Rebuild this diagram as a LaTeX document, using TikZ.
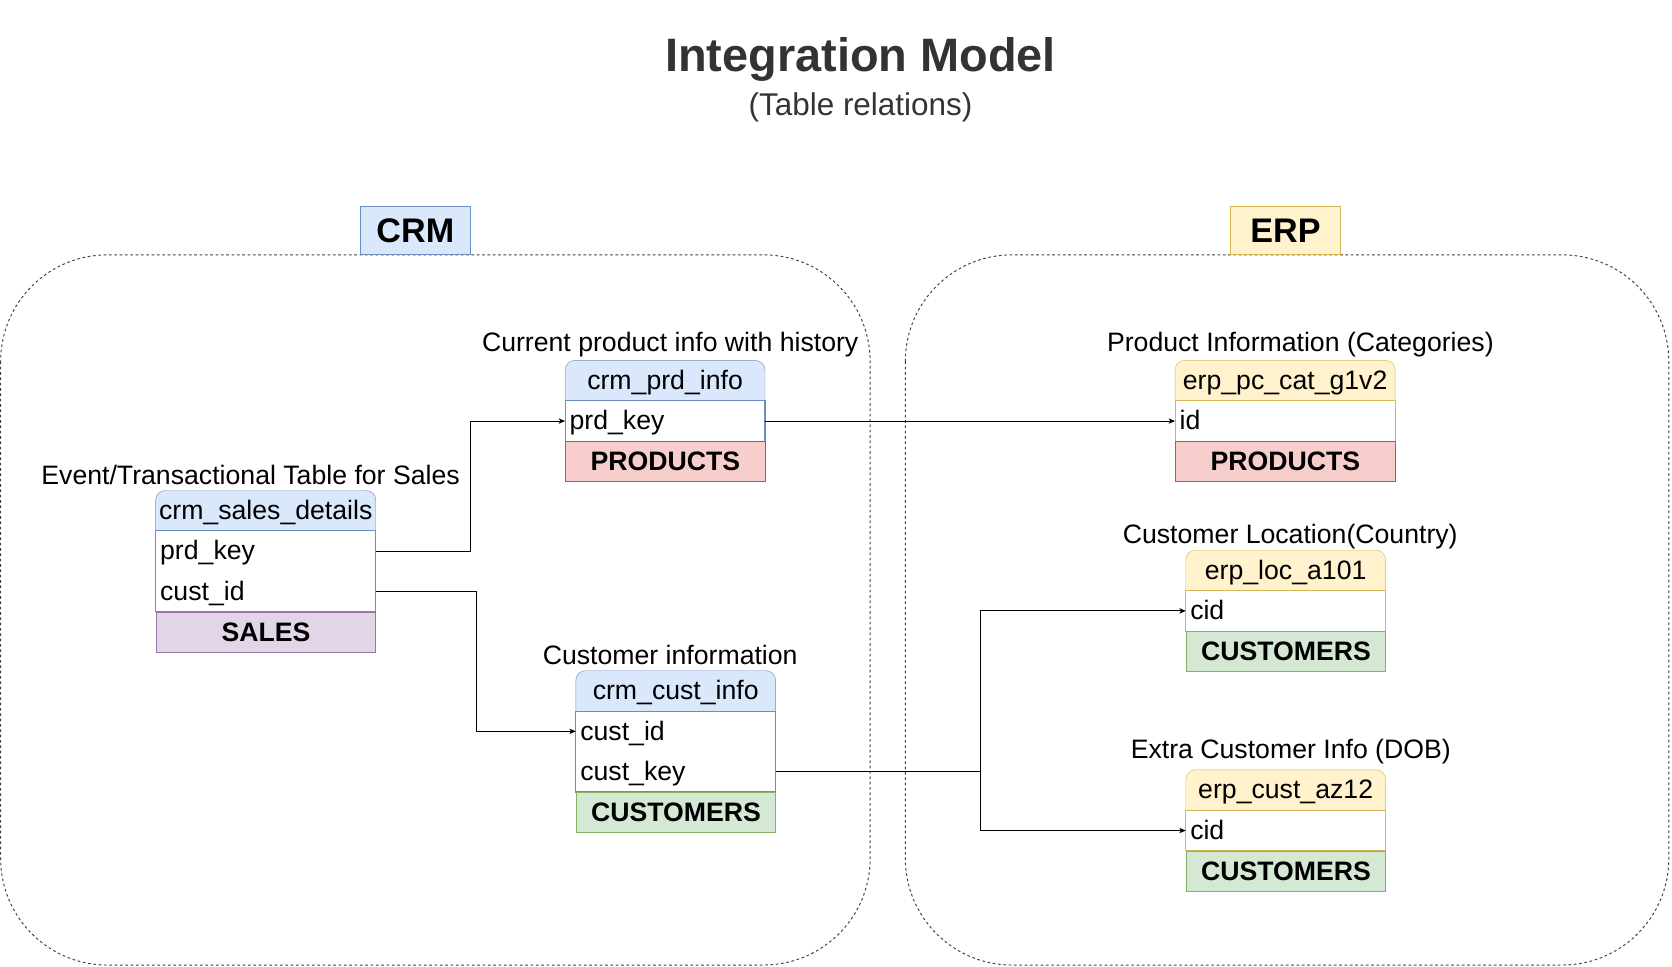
\documentclass[tikz,border=0pt]{standalone}
\usepackage{fontspec}
\setmainfont{Liberation Sans}
\usetikzlibrary{arrows.meta,backgrounds}

\definecolor{crmfill}{HTML}{DAE8FC}
\definecolor{crmline}{HTML}{6C8EBF}
\definecolor{erpfill}{HTML}{FFF2CC}
\definecolor{erpline}{HTML}{D6B656}
\definecolor{prdfill}{HTML}{F8CECC}
\definecolor{prdline}{HTML}{B85450}
\definecolor{custfill}{HTML}{D5E8D4}
\definecolor{custline}{HTML}{82B366}
\definecolor{salesfill}{HTML}{E1D5E7}
\definecolor{salesline}{HTML}{9673A6}
\definecolor{titlegray}{HTML}{333333}

\begin{document}
\begin{tikzpicture}
[x=1pt, y=-1pt,
 lbl/.style={inner sep=0pt, font=\fontsize{25}{30}\selectfont},
 hdr/.style={anchor=north west, minimum height=37.5pt, inner sep=0pt, text height=19.5pt, text depth=3pt, font=\fontsize{25}{30}\selectfont},
 fld/.style={anchor=north west, minimum height=37.5pt, inner xsep=4pt, inner ysep=0pt, text height=19.5pt, text depth=3pt, align=left, font=\fontsize{25}{30}\selectfont},
 grp/.style={anchor=north west, minimum height=37.5pt, inner sep=0pt, line width=1pt, font=\fontsize{25}{30}\selectfont\bfseries},
 conn/.style={-{Stealth[length=6pt,width=5pt,inset=1.5pt]}, line width=0.9pt},
 zone/.style={draw=black!75, dash pattern=on 2.5pt off 2.5pt, line width=0.9pt, rounded corners=100pt},
 tag/.style={minimum width=103pt, minimum height=45pt, inner sep=0pt, line width=1pt, font=\fontsize{32}{38}\selectfont\bfseries},
]
\useasboundingbox (0,0) rectangle (1568,906);

%title
\node[font=\fontsize{44}{50}\selectfont\bfseries, text=titlegray] (title) at (807,56) {Integration Model};
\node[font=\fontsize{29.5}{34}\selectfont, text=titlegray] (subtitle) at (807,101) {(Table relations)};

%CRM
\draw[zone] (0.6,239) rectangle (816,905);
\node[tag, fill=crmfill, draw=crmline] (crm) at (389.5,216.5) {CRM};

%ERP
\draw[zone] (849,239) rectangle (1565,905);
\node[tag, fill=erpfill, draw=erpline] (erp) at (1205.5,216.5) {ERP};

%crm_sales_details
\node[lbl] at (235,445) {Event/Transactional Table for Sales};
\node[hdr, minimum width=206pt] (sd) at (146,460) {crm\_sales\_details};
\node[fld, text width=198pt] (sd1) at (sd.south west) {prd\_key};
\node[fld, text width=198pt] (sd2) at (sd1.south west) {cust\_id};
\draw[crmline, line width=1pt] (sd1.north west) rectangle (sd2.south east);
\node[grp, minimum width=206pt, fill=salesfill, draw=salesline] (sdg) at (sd2.south west) {SALES};

%crm_prd_info
\node[lbl] at (628.5,323) {Current product info with history};
\node[hdr, minimum width=187pt] (pi) at (530,338) {crm\_prd\_info};
\node[fld, text width=179pt] (pi1) at (pi.south west) {prd\_key};
\draw[crmline, line width=1pt] (pi1.north west) rectangle (pi1.south east);
\node[grp, minimum width=187pt, fill=prdfill, draw=prdline] (pig) at (pi1.south west) {PRODUCTS};

%crm_cust_info
\node[lbl] at (628.5,614) {Customer information};
\node[hdr, minimum width=187pt] (ci) at (540,629) {crm\_cust\_info};
\node[fld, text width=179pt] (ci1) at (ci.south west) {cust\_id};
\node[fld, text width=179pt] (ci2) at (ci1.south west) {cust\_key};
\draw[crmline, line width=1pt] (ci1.north west) rectangle (ci2.south east);
\node[grp, minimum width=187pt, fill=custfill, draw=custline] (cig) at (ci2.south west) {CUSTOMERS};

%erp_pc_cat_g1v2
\node[lbl] at (1219.5,323) {Product Information (Categories)};
\node[hdr, minimum width=206pt] (pc) at (1102,338) {erp\_pc\_cat\_g1v2};
\node[fld, text width=198pt] (pc1) at (pc.south west) {id};
\draw[erpline, line width=1pt] (pc1.north west) rectangle (pc1.south east);
\node[grp, minimum width=206pt, fill=prdfill, draw=prdline] (pcg) at (pc1.south west) {PRODUCTS};

%erp_loc_a101
\node[lbl] at (1210,503) {Customer Location(Country)};
\node[hdr, minimum width=187pt] (loc) at (1112,516) {erp\_loc\_a101};
\node[fld, text width=179pt] (loc1) at (loc.south west) {cid};
\draw[erpline, line width=1pt] (loc1.north west) rectangle (loc1.south east);
\node[grp, minimum width=187pt, fill=custfill, draw=custline] (locg) at (loc1.south west) {CUSTOMERS};

%erp_cust_az12
\node[lbl] at (1210.5,705) {Extra Customer Info (DOB)};
\node[hdr, minimum width=187pt] (az) at (1112,722) {erp\_cust\_az12};
\node[fld, text width=179pt] (az1) at (az.south west) {cid};
\draw[erpline, line width=1pt] (az1.north west) rectangle (az1.south east);
\node[grp, minimum width=187pt, fill=custfill, draw=custline] (azg) at (az1.south west) {CUSTOMERS};

%HEADERS
\begin{scope}[on background layer, line width=1pt, rounded corners=9pt]
\filldraw[fill=crmfill, draw=crmline] (sd.south west) -- (sd.north west) -- (sd.north east) -- (sd.south east);
\filldraw[fill=crmfill, draw=crmline] (pi.south west) -- (pi.north west) -- (pi.north east) -- (pi.south east);
\filldraw[fill=crmfill, draw=crmline] (ci.south west) -- (ci.north west) -- (ci.north east) -- (ci.south east);
\filldraw[fill=erpfill, draw=erpline] (pc.south west) -- (pc.north west) -- (pc.north east) -- (pc.south east);
\filldraw[fill=erpfill, draw=erpline] (loc.south west) -- (loc.north west) -- (loc.north east) -- (loc.south east);
\filldraw[fill=erpfill, draw=erpline] (az.south west) -- (az.north west) -- (az.north east) -- (az.south east);
\end{scope}

%relations
\draw[conn] (sd1.east) -- ++(89,0) |- (pi1.west);
\draw[conn] (sd2.east) -- ++(94,0) |- (ci1.west);
\draw[conn] (pi1.east) -- (pc1.west);
\draw[conn] (ci2.east) -- ++(192,0) |- (loc1.west);
\draw[conn] (ci2.east) -- ++(192,0) |- (az1.west);

\end{tikzpicture}
\end{document}
